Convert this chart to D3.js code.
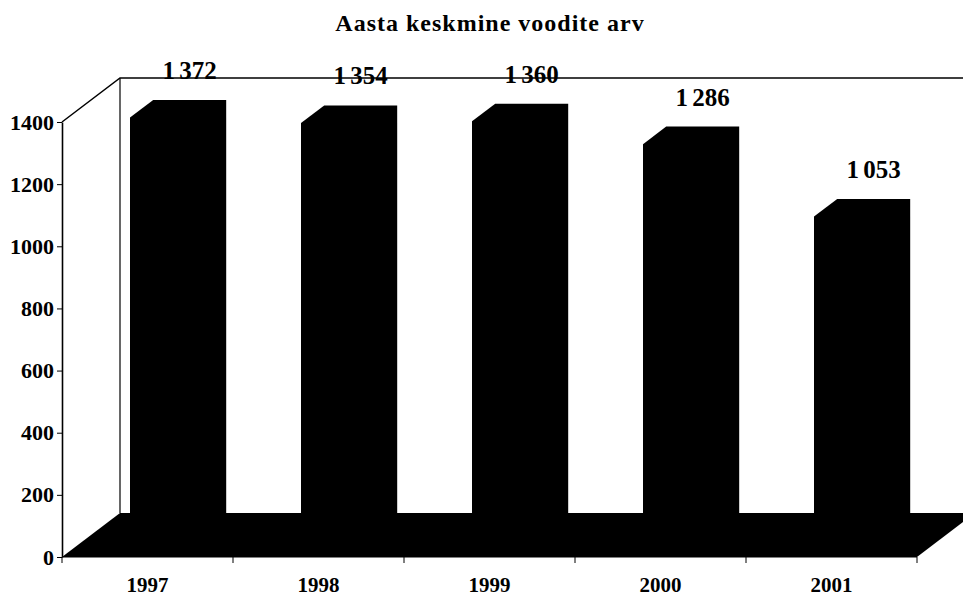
<!DOCTYPE html>
<html>
<head>
<meta charset="utf-8">
<script src="https://cdn.jsdelivr.net/npm/d3@7"></script>
<style>
  body { margin: 0; background: #fff; }
  text { font-family: "Liberation Serif", "Times New Roman", serif; fill: #000; }
</style>
</head>
<body>
<div id="chart"></div>
<script>
var years = ["1997", "1998", "1999", "2000", "2001"];
var values = [1372, 1354, 1360, 1286, 1053];
var valueLabels = ["1 372", "1 354", "1 360", "1 286", "1 053"];
var yTicks = [0, 200, 400, 600, 800, 1000, 1200, 1400];
var title = "Aasta keskmine voodite arv";

var width = 963, height = 598;
var depthX = 58, depthY = 44;   // full depth of the 3D box
var barFront = 0.3, barBack = 0.7; // bar depth as fraction of box depth

var svg = d3.select("#chart").append("svg")
	.attr("width", width)
	.attr("height", height);

var x = d3.scaleBand()
	.domain(years)
	.range([62, 917])
	.padding(0);

var y = d3.scaleLinear()
	.domain([0, 1400])
	.range([557, 122]);

// point at (x, y) pushed back into the box by fraction f
function pt(px, py, f) {
	return [px + depthX * f, py - depthY * f];
}

var x0 = x.range()[0], x1 = x.range()[1];
var yTop = y(1400), yBase = y(0);

// back wall and left side wall outline
var wall = svg.append("g");
wall.append("polyline")
	.attr("points", [[x0, yTop], pt(x0, yTop, 1), pt(x1, yTop, 1)].join(" "))
	.attr("fill", "none")
	.attr("stroke", "#000")
	.attr("stroke-width", 1.5);
wall.append("line")
	.attr("x1", pt(x0, yTop, 1)[0]).attr("y1", pt(x0, yTop, 1)[1])
	.attr("x2", pt(x0, yBase, 1)[0]).attr("y2", pt(x0, yBase, 1)[1])
	.attr("stroke", "#000")
	.attr("stroke-width", 1.2);

// floor
svg.append("polygon")
	.attr("points", [[x0, yBase], [x1, yBase], pt(x1, yBase, 1), pt(x0, yBase, 1)].join(" "))
	.attr("fill", "#000");

// bars as black prisms
var bw = 73, off = 50.6;
var bars = svg.append("g").selectAll("g")
	.data(values)
	.enter().append("g");

bars.append("polygon")
	.attr("points", function(d, i) {
		var l = x(years[i]) + off, r = l + bw;
		return [pt(l, yBase, barFront), pt(l, y(d), barFront), pt(l, y(d), barBack),
			pt(r, y(d), barBack), pt(r, yBase, barBack), pt(r, yBase, barFront)].join(" ");
	})
	.attr("fill", "#000");

bars.append("text")
	.attr("x", function(d, i) { return pt(x(years[i]) + off + bw / 2, 0, barBack)[0]; })
	.attr("y", function(d) { return pt(0, y(d), barBack)[1] - 21; })
	.attr("text-anchor", "middle")
	.style("font-size", "25px")
	.style("font-weight", "bold")
	.style("word-spacing", "-2px")
	.text(function(d, i) { return valueLabels[i]; });

// y axis
var yAxis = svg.append("g")
	.attr("transform", "translate(" + x0 + ",0)")
	.call(d3.axisLeft(y).tickValues(yTicks).tickSize(5).tickSizeOuter(0).tickFormat(d3.format("d")));
yAxis.select(".domain").attr("stroke-width", 1.6);
yAxis.selectAll("text")
	.attr("x", -8)
	.style("font-size", "22px")
	.style("font-weight", "bold")
	.style("font-family", "'Liberation Serif', serif");

// x axis: ticks at category borders
var borders = years.map(function(d) { return x(d); }).concat([x1]);
var xAxis = svg.append("g");
xAxis.append("line")
	.attr("x1", x0).attr("x2", x1)
	.attr("y1", yBase).attr("y2", yBase)
	.attr("stroke", "#000");
xAxis.selectAll(".tick")
	.data(borders)
	.enter().append("line")
	.attr("x1", function(d) { return d; })
	.attr("x2", function(d) { return d; })
	.attr("y1", yBase).attr("y2", yBase + 6)
	.attr("stroke", "#000");
xAxis.selectAll(".lab")
	.data(years)
	.enter().append("text")
	.attr("x", function(d) { return x(d) + x.bandwidth() / 2; })
	.attr("y", 592)
	.attr("text-anchor", "middle")
	.style("font-size", "21px")
	.style("font-weight", "bold")
	.text(function(d) { return d; });

// title
svg.append("text")
	.attr("x", 490)
	.attr("y", 31)
	.attr("text-anchor", "middle")
	.style("font-size", "24px")
	.style("font-weight", "bold")
	.style("letter-spacing", "1px")
	.text(title);
</script>
</body>
</html>
